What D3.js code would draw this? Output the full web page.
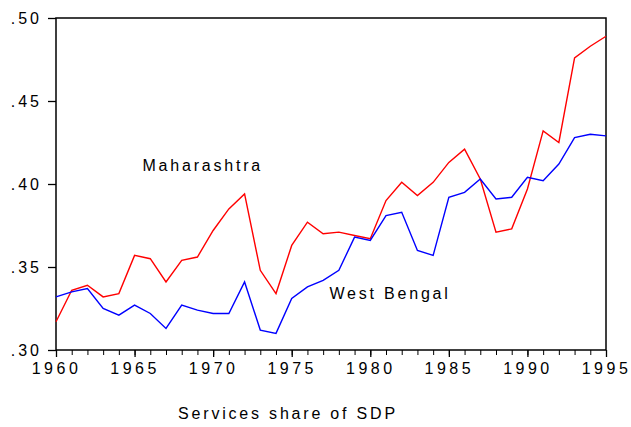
<!DOCTYPE html>
<html>
<head>
<meta charset="utf-8">
<script src="https://cdn.jsdelivr.net/npm/d3@7"></script>
<style>
  body { margin: 0; background: #fff; }
  text { font-family: "Liberation Sans", Arial, sans-serif; fill: #000; }
</style>
</head>
<body>
<div id="chart"></div>
<script>
const years = d3.range(1960, 1996);
const maharashtra = [
  0.317, 0.336, 0.339, 0.332, 0.334, 0.357, 0.355, 0.341, 0.354, 0.356,
  0.372, 0.385, 0.394, 0.348, 0.334, 0.363, 0.377, 0.370, 0.371, 0.369,
  0.367, 0.390, 0.401, 0.393, 0.401, 0.413, 0.421, 0.403, 0.371, 0.373,
  0.397, 0.432, 0.425, 0.476, 0.483, 0.489
];
const westBengal = [
  0.332, 0.335, 0.337, 0.325, 0.321, 0.327, 0.322, 0.313, 0.327, 0.324,
  0.322, 0.322, 0.341, 0.312, 0.310, 0.331, 0.338, 0.342, 0.348, 0.368,
  0.366, 0.381, 0.383, 0.360, 0.357, 0.392, 0.395, 0.403, 0.391, 0.392,
  0.404, 0.402, 0.412, 0.428, 0.430, 0.429
];
const yTicks = [0.30, 0.35, 0.40, 0.45, 0.50];
const xTicks = [1960, 1965, 1970, 1975, 1980, 1985, 1990, 1995];
const series = [
  { name: "Maharashtra", values: maharashtra, color: "#ff0000", label: [1965.5, 0.408] },
  { name: "West Bengal", values: westBengal, color: "#0000ff", label: [1977.4, 0.331] }
];

const W = 631, H = 427;
const margin = { top: 18, right: 25, bottom: 77, left: 56 };
const width = W - margin.left - margin.right;
const height = H - margin.top - margin.bottom;

const x = d3.scaleLinear().domain([1960, 1995]).range([0, width]);
const y = d3.scaleLinear().domain([0.30, 0.50]).range([height, 0]);

const svg = d3.select("#chart").append("svg")
  .attr("width", W).attr("height", H);

const g = svg.append("g")
  .attr("transform", `translate(${margin.left},${margin.top})`);

// frame
g.append("rect")
  .attr("width", width).attr("height", height)
  .attr("fill", "none").attr("stroke", "#000").attr("stroke-width", 1.5);

// y axis
const yAxis = g.append("g")
  .call(d3.axisLeft(y).tickValues(yTicks).tickSize(8).tickPadding(6)
    .tickFormat(d => d3.format(".2f")(d).replace(/^0/, "")));
yAxis.select(".domain").remove();
yAxis.selectAll("line").attr("stroke-width", 1.3);
yAxis.selectAll("text")
  .attr("font-size", 16).attr("letter-spacing", "3px")
  .style("font-family", "Liberation Sans, Arial, sans-serif");

// x axis: minor ticks every year, labels every 5
const xMinor = g.append("g")
  .attr("transform", `translate(0,${height})`)
  .call(d3.axisBottom(x).tickValues(years).tickSize(5).tickFormat(""));
xMinor.select(".domain").remove();

const xAxis = g.append("g")
  .attr("transform", `translate(0,${height})`)
  .call(d3.axisBottom(x).tickValues(xTicks).tickSize(7).tickPadding(6)
    .tickFormat(d3.format("d")));
xAxis.select(".domain").remove();
xAxis.selectAll("line").attr("stroke-width", 1.3);
xAxis.selectAll("text")
  .attr("font-size", 16).attr("letter-spacing", "3.5px")
  .style("font-family", "Liberation Sans, Arial, sans-serif");

// lines
const line = d3.line()
  .x((d, i) => x(years[i]))
  .y(d => y(d));

g.selectAll(".series")
  .data(series)
  .join("path")
  .attr("class", "series")
  .attr("fill", "none")
  .attr("stroke", d => d.color)
  .attr("stroke-width", 1.4)
  .attr("d", d => line(d.values));

g.selectAll(".label")
  .data(series)
  .join("text")
  .attr("class", "label")
  .attr("x", d => x(d.label[0]))
  .attr("y", d => y(d.label[1]))
  .attr("font-size", 16)
  .attr("letter-spacing", "2.8px")
  .text(d => d.name);

// x axis title
svg.append("text")
  .attr("x", 288)
  .attr("y", 419)
  .attr("text-anchor", "middle")
  .attr("font-size", 16)
  .attr("letter-spacing", "2.8px")
  .text("Services share of SDP");
</script>
</body>
</html>
